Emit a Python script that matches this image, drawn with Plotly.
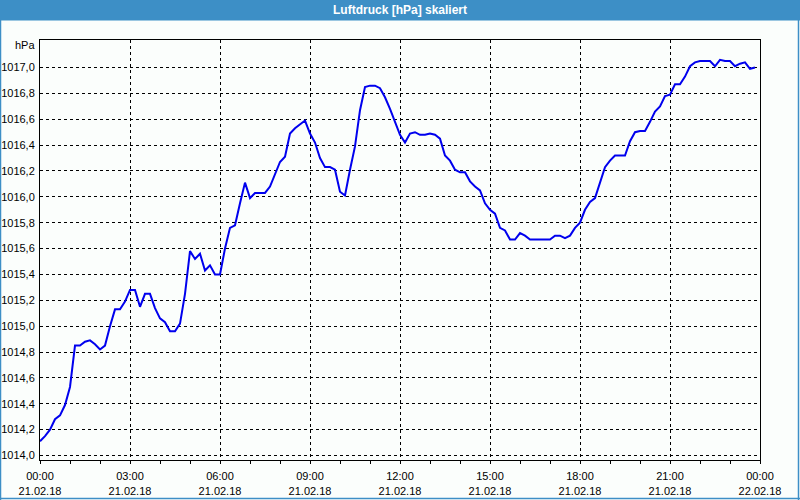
import pandas as pd
import plotly.graph_objects as go

# Luftdruck values every 10 minutes, 21.02.18 00:00 .. 23:50
pressure = [
    1014.11, 1014.15, 1014.20, 1014.28, 1014.31, 1014.39,
    1014.53, 1014.85, 1014.85, 1014.88, 1014.89, 1014.86,
    1014.82, 1014.85, 1015.00, 1015.13, 1015.13, 1015.19,
    1015.28, 1015.28, 1015.15, 1015.25, 1015.25, 1015.14,
    1015.06, 1015.03, 1014.96, 1014.96, 1015.02, 1015.25,
    1015.58, 1015.52, 1015.56, 1015.43, 1015.47, 1015.40,
    1015.40, 1015.60, 1015.76, 1015.78, 1015.95, 1016.11,
    1015.99, 1016.03, 1016.03, 1016.03, 1016.08, 1016.17,
    1016.27, 1016.31, 1016.49, 1016.53, 1016.56, 1016.59,
    1016.49, 1016.42, 1016.30, 1016.23, 1016.23, 1016.21,
    1016.04, 1016.01, 1016.21, 1016.39, 1016.67, 1016.85,
    1016.86, 1016.86, 1016.84, 1016.77, 1016.68, 1016.58,
    1016.48, 1016.42, 1016.49, 1016.50, 1016.48, 1016.48,
    1016.49, 1016.48, 1016.45, 1016.32, 1016.28, 1016.21,
    1016.19, 1016.19, 1016.12, 1016.08, 1016.05, 1015.95,
    1015.90, 1015.87, 1015.76, 1015.74, 1015.67, 1015.67,
    1015.72, 1015.70, 1015.67, 1015.67, 1015.67, 1015.67,
    1015.67, 1015.70, 1015.70, 1015.68, 1015.70, 1015.76,
    1015.80, 1015.90, 1015.96, 1015.99, 1016.12, 1016.23,
    1016.28, 1016.32, 1016.32, 1016.32, 1016.43, 1016.50,
    1016.51, 1016.51, 1016.58, 1016.66, 1016.70, 1016.78,
    1016.79, 1016.87, 1016.87, 1016.93, 1017.01, 1017.04,
    1017.05, 1017.05, 1017.05, 1017.01, 1017.06, 1017.05,
    1017.05, 1017.01, 1017.03, 1017.04, 1016.99, 1017.00,
]
start_time = "2018-02-21 00:00"
step = "10min"
times = pd.date_range(start_time, periods=len(pressure), freq=step)

x_tick_vals = ["2018-02-21 00:00", "2018-02-21 03:00", "2018-02-21 06:00",
               "2018-02-21 09:00", "2018-02-21 12:00", "2018-02-21 15:00",
               "2018-02-21 18:00", "2018-02-21 21:00", "2018-02-22 00:00"]
x_tick_text = ["00:00<br>21.02.18", "03:00<br>21.02.18", "06:00<br>21.02.18",
               "09:00<br>21.02.18", "12:00<br>21.02.18", "15:00<br>21.02.18",
               "18:00<br>21.02.18", "21:00<br>21.02.18", "00:00<br>22.02.18"]
y_tick_vals = [1014.0, 1014.2, 1014.4, 1014.6, 1014.8, 1015.0, 1015.2, 1015.4,
               1015.6, 1015.8, 1016.0, 1016.2, 1016.4, 1016.6, 1016.8, 1017.0]
y_tick_text = ["1014,0", "1014,2", "1014,4", "1014,6", "1014,8", "1015,0",
               "1015,2", "1015,4", "1015,6", "1015,8", "1016,0", "1016,2",
               "1016,4", "1016,6", "1016,8", "1017,0"]

title_text = "Luftdruck [hPa] skaliert"
unit_text = "hPa"

W, H = 800, 500
L, R, T, B = 40, 40, 40, 40
PW, PH = W - L - R, H - T - B


def px(x):
    return (x - L) / PW


def py(y):
    return (H - B - y) / PH


BLUE_BAR = "#3d8fc6"
BG = "#fbfefc"
FONT = "Liberation Sans, Arial, sans-serif"

fig = go.Figure()
fig.add_trace(go.Scatter(
    x=times, y=pressure, mode="lines",
    line=dict(color="#0000ee", width=2),
    hoverinfo="x+y", showlegend=False,
))

fig.update_layout(
    width=W, height=H,
    margin=dict(l=L, r=R, t=T, b=B, autoexpand=False),
    paper_bgcolor=BG, plot_bgcolor=BG,
    font=dict(family=FONT, size=11, color="#000000"),
    xaxis=dict(
        type="date", automargin=False,
        range=["2018-02-21 00:00", "2018-02-22 00:00"],
        tickmode="array", tickvals=x_tick_vals, ticktext=x_tick_text,
        ticks="outside", ticklen=3, tickcolor="black",
        ticklabelstandoff=3,
        showgrid=True, gridcolor="black", gridwidth=1, griddash="3px,3px",
        showline=True, linecolor="black", linewidth=1, mirror=True,
        zeroline=False,
        minor=dict(dtick=3600000, tick0="2018-02-21 00:00", ticks="outside",
                   ticklen=3, tickcolor="black", showgrid=False),
        tickfont=dict(family=FONT, size=11),
    ),
    yaxis=dict(
        automargin=False,
        range=[1013.965, 1017.213],
        tickmode="array", tickvals=y_tick_vals, ticktext=y_tick_text,
        ticks="", ticklabelstandoff=2,
        showgrid=True, gridcolor="black", gridwidth=1, griddash="3px,3px",
        showline=True, linecolor="black", linewidth=1, mirror=True,
        zeroline=False,
        tickfont=dict(family=FONT, size=11),
    ),
    shapes=[
        dict(type="rect", xref="paper", yref="paper",
             x0=px(0), x1=px(800), y0=py(0), y1=py(20.5),
             fillcolor=BLUE_BAR, line=dict(width=0), layer="below"),
        dict(type="line", xref="paper", yref="paper",
             x0=px(0.5), x1=px(0.5), y0=py(20), y1=py(500),
             line=dict(color=BLUE_BAR, width=1.5)),
        dict(type="line", xref="paper", yref="paper",
             x0=px(798.5), x1=px(798.5), y0=py(20), y1=py(500),
             line=dict(color=BLUE_BAR, width=1.5)),
        dict(type="line", xref="paper", yref="paper",
             x0=px(0), x1=px(800), y0=py(498.5), y1=py(498.5),
             line=dict(color=BLUE_BAR, width=1.5)),
    ],
    annotations=[
        dict(text="<b>" + title_text + "</b>", xref="paper", yref="paper",
             x=px(400), y=py(10), xanchor="center", yanchor="middle",
             showarrow=False, font=dict(family=FONT, size=12, color="white")),
        dict(text=unit_text, xref="paper", yref="paper",
             x=px(37), y=py(45), xanchor="right", yanchor="middle",
             showarrow=False, font=dict(family=FONT, size=11, color="black")),
    ],
)

fig.write_html("out.html")
